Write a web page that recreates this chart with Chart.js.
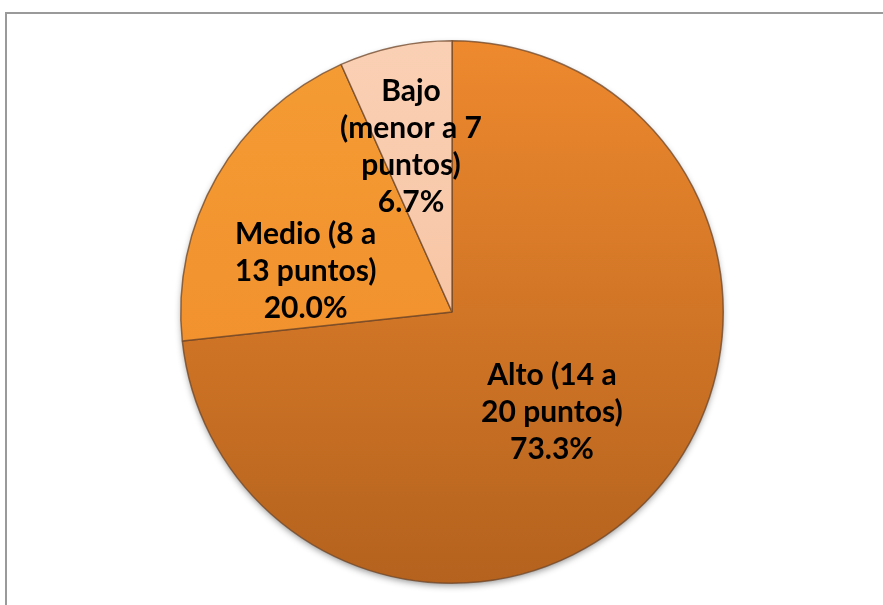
<!DOCTYPE html>
<html>
<head>
<meta charset="utf-8">
<script src="https://cdn.jsdelivr.net/npm/chart.js@4/dist/chart.umd.min.js"></script>
<style>
  html, body { margin: 0; padding: 0; background: #fff; overflow: hidden; }
  #wrap { position: relative; width: 883px; height: 605px; }
  #frame { position: absolute; left: 5px; top: 12px; width: 900px; height: 620px;
           border-left: 2px solid #9a9a9a; border-top: 2px solid #9a9a9a; box-sizing: border-box; }
  canvas { position: absolute; left: 0; top: 0; }
</style>
</head>
<body>
<div id="wrap">
  <div id="frame"></div>
  <canvas id="c" width="883" height="605"></canvas>
</div>
<script>
const categories = ["Alto (14 a 20 puntos)", "Medio (8 a 13 puntos)", "Bajo (menor a 7 puntos)"];
const percentages = [73.3, 20.0, 6.7];
const labelLines = [
  ["Alto (14 a", "20 puntos)", "73.3%"],
  ["Medio (8 a", "13 puntos)", "20.0%"],
  ["Bajo", "(menor a 7", "puntos)", "6.7%"]
];
const colorsTop = ["#EE892E", "#F59C34", "#FAD0B4"];
const colorsBottom = ["#B4621E", "#EE8A2A", "#F5BB98"];

// label anchor: fraction of radius along the slice bisector plus small pixel nudges
const labelFrac = [0.53, 0.55, 0.6];
const labelNudge = [[-7, 4], [-17, 34], [-7, -6]];

const shadowPlugin = {
  id: 'pieShadow',
  beforeDatasetsDraw(chart) {
    const meta = chart.getDatasetMeta(0);
    if (!meta.data.length) return;
    const a = meta.data[0];
    const ctx = chart.ctx;
    ctx.save();
    ctx.shadowColor = 'rgba(0,0,0,0.45)';
    ctx.shadowBlur = 7;
    ctx.shadowOffsetY = 3;
    ctx.beginPath();
    ctx.arc(a.x, a.y, a.outerRadius - 1, 0, Math.PI * 2);
    ctx.fillStyle = '#B4621E';
    ctx.fill();
    ctx.restore();
  }
};

const labelPlugin = {
  id: 'sliceLabels',
  afterDatasetsDraw(chart) {
    const meta = chart.getDatasetMeta(0);
    const ctx = chart.ctx;
    ctx.save();
    ctx.font = 'bold 30px Lato, "Open Sans", sans-serif';
    ctx.fillStyle = '#000';
    ctx.textAlign = 'center';
    ctx.textBaseline = 'middle';
    const lh = 37;
    meta.data.forEach((arc, i) => {
      const mid = (arc.startAngle + arc.endAngle) / 2;
      const r = arc.outerRadius * labelFrac[i];
      const cx = arc.x + Math.cos(mid) * r + labelNudge[i][0];
      const cy = arc.y + Math.sin(mid) * r + labelNudge[i][1];
      const lines = labelLines[i];
      const y0 = cy - (lines.length - 1) * lh / 2;
      lines.forEach((t, k) => ctx.fillText(t, cx, y0 + k * lh));
    });
    ctx.restore();
  }
};

function sliceGradient(context) {
  const chart = context.chart;
  const area = chart.chartArea;
  if (!area) return colorsTop[context.dataIndex];
  const g = chart.ctx.createLinearGradient(0, area.top, 0, area.bottom);
  g.addColorStop(0, colorsTop[context.dataIndex]);
  g.addColorStop(1, colorsBottom[context.dataIndex]);
  return g;
}

new Chart(document.getElementById('c'), {
  type: 'pie',
  data: {
    labels: categories,
    datasets: [{
      data: percentages,
      backgroundColor: sliceGradient,
      borderColor: 'rgba(110,70,40,0.75)',
      borderWidth: 1.5
    }]
  },
  options: {
    responsive: false,
    animation: false,
    layout: { padding: { top: 40, bottom: 21, left: 21, right: 0 } },
    plugins: {
      legend: { display: false },
      tooltip: { enabled: false },
      title: { display: false }
    }
  },
  plugins: [shadowPlugin, labelPlugin]
});
</script>
</body>
</html>
